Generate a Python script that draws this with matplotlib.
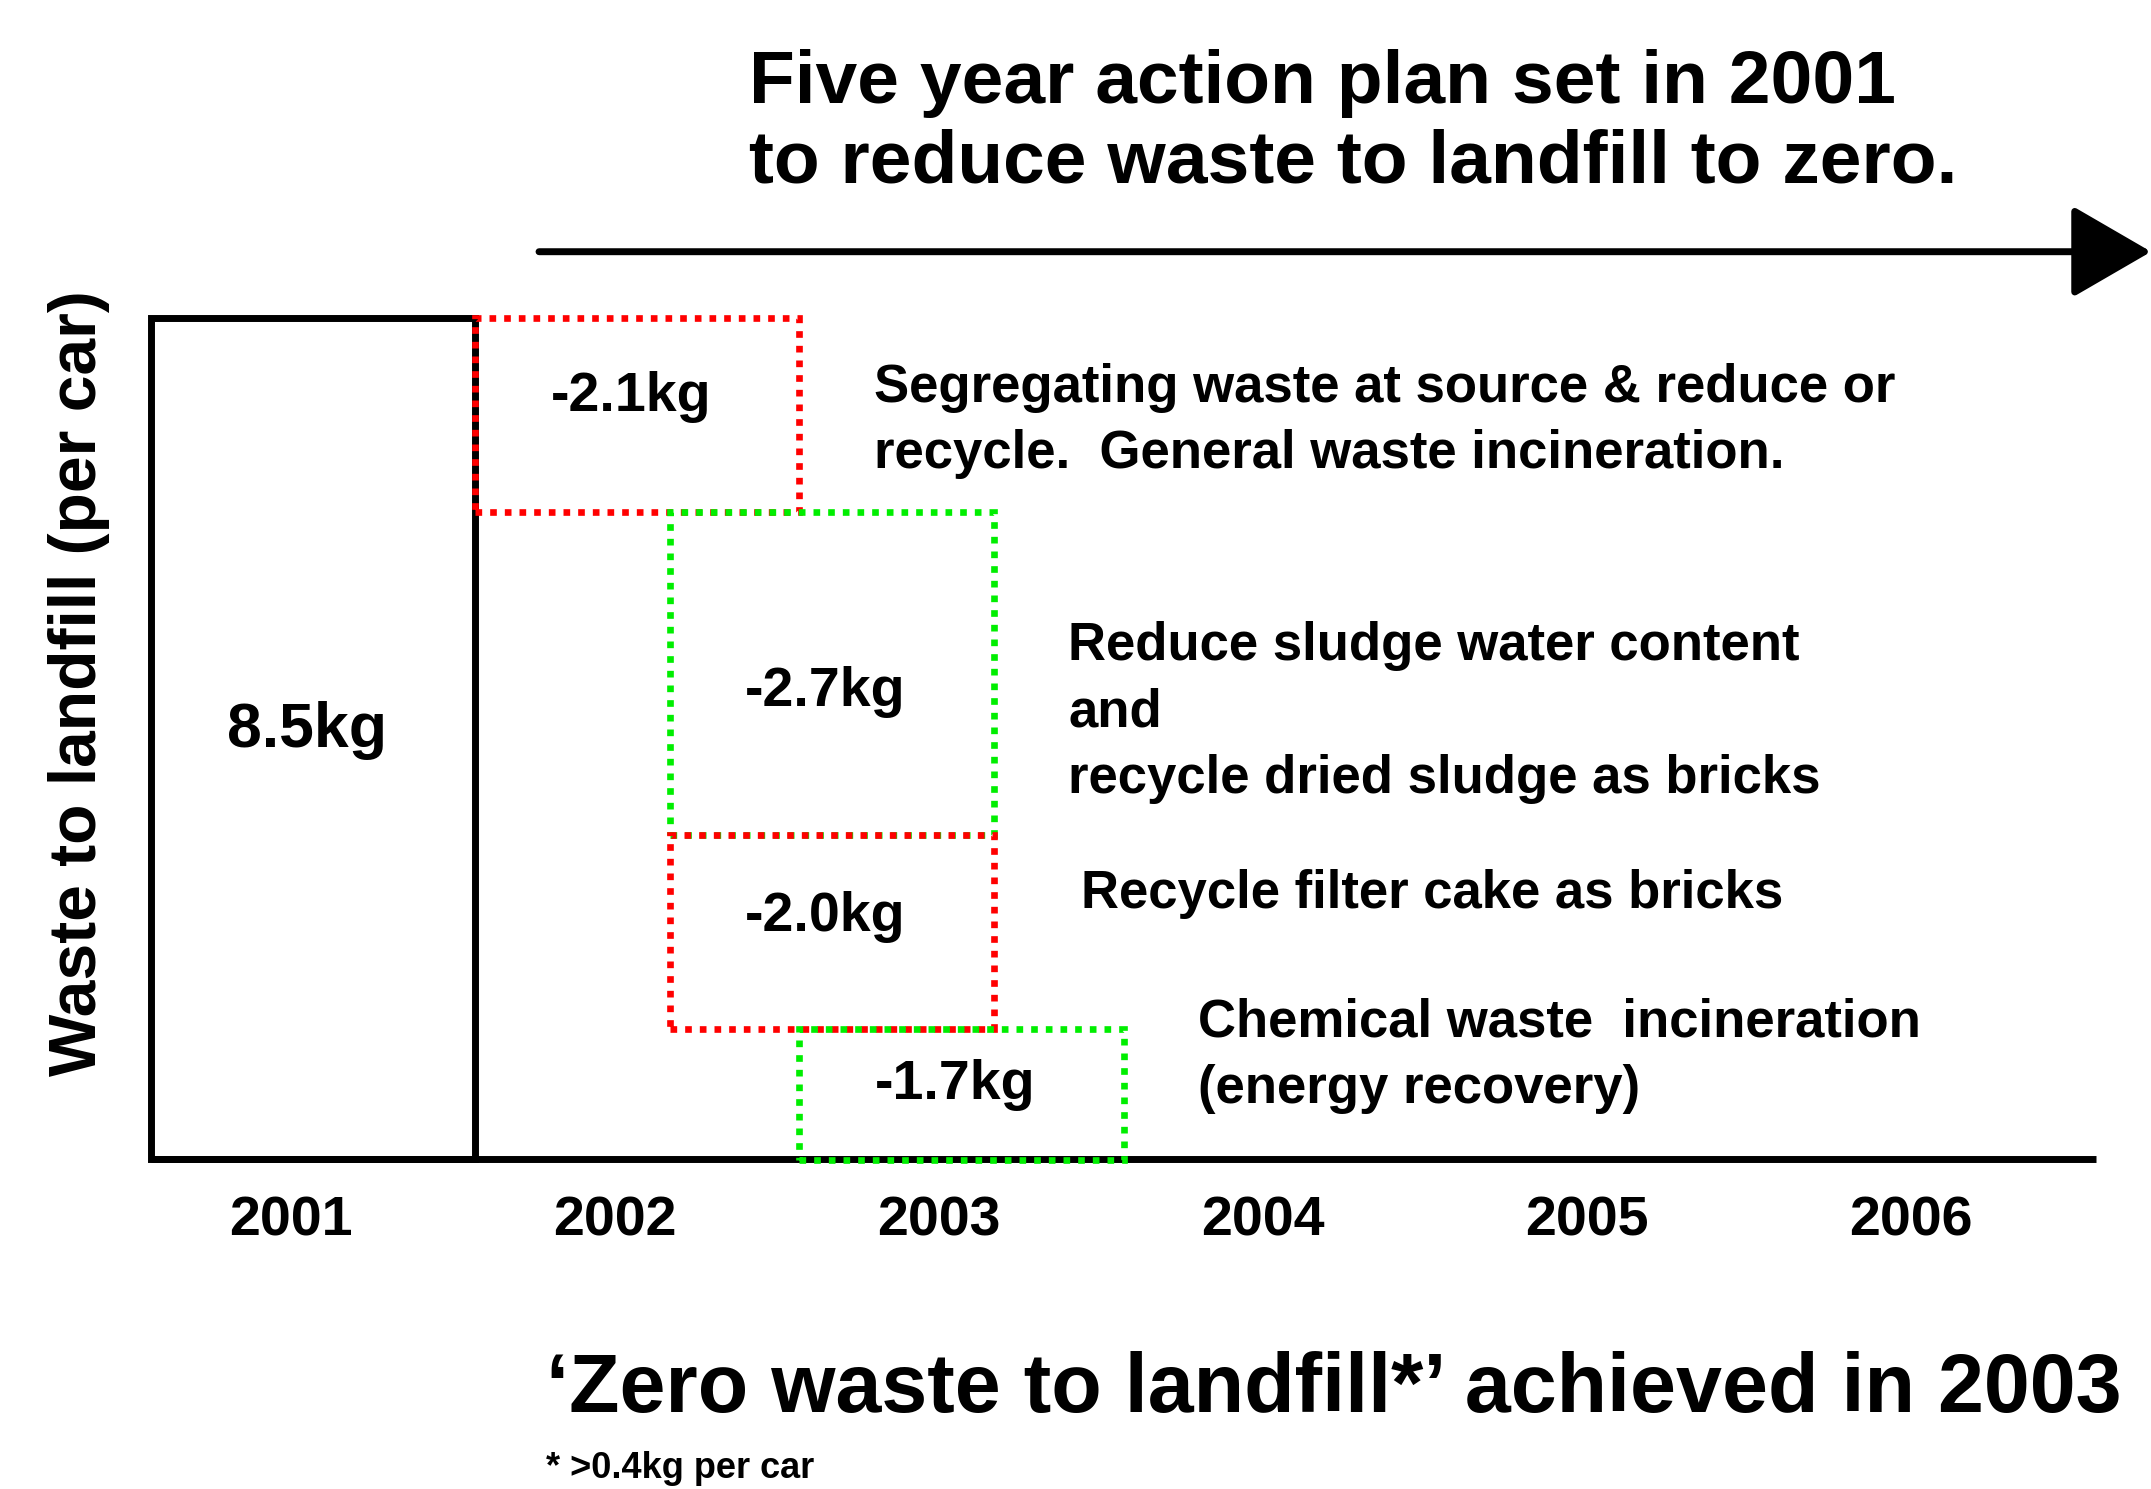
import matplotlib
matplotlib.use("Agg")
import matplotlib.pyplot as plt
from matplotlib.patches import Rectangle

plt.rcParams['font.family'] = ['Liberation Sans', 'DejaVu Sans']

# ---- data ----
years = ['2001', '2002', '2003', '2004', '2005', '2006']
baseline_value = 8.5
baseline_label = '8.5kg'
box_starts = [1.0, 1.6, 1.6, 2.0]          # year-slot where each reduction box starts
box_heights = [1.96, 3.27, 1.96, 1.32]     # drawn box heights (kg)
box_labels = ['-2.1kg', '-2.7kg', '-2.0kg', '-1.7kg']
box_colors = ['#FF0000', '#00EE00', '#FF0000', '#00EE00']
descriptions = [
    'Segregating waste at source & reduce or\nrecycle.  General waste incineration.',
    'Reduce sludge water content\nand\nrecycle dried sludge as bricks',
    'Recycle filter cake as bricks',
    'Chemical waste  incineration\n(energy recovery)',
]
title = 'Five year action plan set in 2001\nto reduce waste to landfill to zero.'
ylabel = 'Waste to landfill (per car)'
conclusion = '\u2018Zero waste to landfill*\u2019 achieved in 2003'
footnote = '* >0.4kg per car'

# ---- layout ----
W, H = 2151, 1489
fig = plt.figure(figsize=(W / 100, H / 100), dpi=100)
ax = fig.add_axes([151 / W, 1 - 1159 / H, (2096 - 151) / W, (1159 - 318) / H])
ax.set_xlim(0, 6)
ax.set_ylim(0, 8.5)
for s in ax.spines.values():
    s.set_visible(False)
ax.set_yticks([])

# year tick labels
ax.set_xticks([i + 0.43 for i in range(len(years))])
ax.set_xticklabels(years, fontsize=40, fontweight='bold')
ax.tick_params(axis='x', length=0, pad=26)

# baseline bar
ax.add_patch(Rectangle((0, 0), 1, baseline_value, fill=False, edgecolor='black',
                       linewidth=5, joinstyle='miter', zorder=2, clip_on=False))
ax.text(0.48, baseline_value / 2 + 0.08, baseline_label, ha='center', va='center',
        fontsize=45, fontweight='bold')
# base axis line
ax.plot([0, 6], [0, 0], color='black', linewidth=5, solid_capstyle='butt', clip_on=False, zorder=2)

# reduction boxes
label_dy = [0.18, -0.18, 0.16, 0.10]
desc_pos = [(2.23, 7.46), (2.83, 4.51), (2.87, 2.68), (3.23, 1.04)]
top = baseline_value
for i in range(len(box_heights)):
    bottom = top - box_heights[i]
    ax.add_patch(Rectangle((box_starts[i], bottom), 1, box_heights[i], fill=False,
                           edgecolor=box_colors[i], linewidth=4.8,
                           linestyle=(0, (1, 1.2)), capstyle='butt', zorder=3 + i, clip_on=False))
    ax.text(box_starts[i] + 0.48, (top + bottom) / 2 + label_dy[i], box_labels[i],
            ha='center', va='center', fontsize=40, fontweight='bold', zorder=10)
    ax.text(desc_pos[i][0], desc_pos[i][1], descriptions[i], ha='left', va='center',
            fontsize=38, fontweight='bold', linespacing=1.42, zorder=10)
    top = bottom

# timeline arrow
ax.annotate('', xy=(6.17, 9.17), xytext=(1.197, 9.17), xycoords='data',
            arrowprops=dict(arrowstyle='-|>,head_length=0.5,head_width=0.29',
                            mutation_scale=100, color='black', linewidth=5,
                            shrinkA=0, shrinkB=0), annotation_clip=False)

# texts
fig.text(749 / W, 1 - 123.5 / H, title, ha='left', va='center', fontsize=54,
         fontweight='bold', linespacing=1.2)
fig.text(79 / W, 1 - 683 / H, ylabel, rotation=90, ha='center', va='center',
         fontsize=47.5, fontweight='bold')
fig.text(546 / W, 1 - 1390 / H, conclusion, ha='left', va='center', fontsize=59.5,
         fontweight='bold')
fig.text(546 / W, 1 - 1468 / H, footnote, ha='left', va='center', fontsize=26,
         fontweight='bold')

fig.savefig('out.png', dpi=100)
